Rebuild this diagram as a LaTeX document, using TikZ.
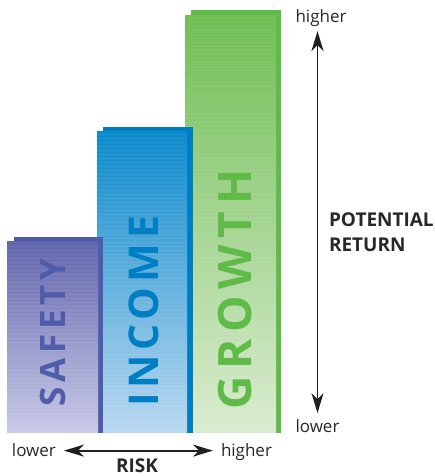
\documentclass[tikz,border=0pt]{standalone}
\usepackage{fontspec}
\setmainfont{Open Sans}
\newfontfamily\barfont{Open Sans}[BoldFont={Open Sans Bold}]
\usetikzlibrary{arrows.meta}
\definecolor{saftop}{RGB}{98,102,172}
\definecolor{safbot}{RGB}{202,202,232}
\definecolor{safdark}{RGB}{78,92,170}
\definecolor{inctop}{RGB}{12,138,204}
\definecolor{incbot}{RGB}{186,216,240}
\definecolor{incdark}{RGB}{0,126,196}
\definecolor{grotop}{RGB}{112,190,84}
\definecolor{grobot}{RGB}{218,236,208}
\definecolor{grodark}{RGB}{96,186,72}
\definecolor{arrowc}{RGB}{35,31,32}
\definecolor{txt}{RGB}{40,40,40}
\tikzset{
  lbl/.style={inner sep=0pt, outer sep=0pt, text=txt, font=\fontsize{17}{20}\selectfont},
  axisttl/.style={inner sep=0pt, outer sep=0pt, text=txt, font=\fontsize{19}{22}\selectfont\bfseries, align=left},
  barlbl/.style={rotate=90, anchor=base west, inner sep=0pt, outer sep=0pt},
  stripes/.style={draw=white, opacity=0.07, line width=0.8pt},
  arr/.style={line width=1.8pt, draw=arrowc,
    {Stealth[length=20pt,width=12pt,inset=6pt]}-{Stealth[length=20pt,width=12pt,inset=6pt]}}
}
\begin{document}
\begin{tikzpicture}[x=1pt,y=1pt]
\useasboundingbox (0,0) rectangle (435,476);
% GROWTH bar
\fill[grodark] (191,43) rectangle (281,466);
\shade[top color=grotop, bottom color=grobot] (185,43) rectangle (276,460);
\foreach \yy in {46,50,...,458} {\draw[stripes] (185,\yy) -- (276,\yy);}
% INCOME bar
\fill[incdark] (103,43) rectangle (193,349);
\shade[top color=inctop, bottom color=incbot] (97,43) rectangle (187,344);
\foreach \yy in {46,50,...,342} {\draw[stripes] (97,\yy) -- (187,\yy);}
% SAFETY bar
\fill[safdark] (14,43) rectangle (103,239);
\shade[top color=saftop, bottom color=safbot] (7,43) rectangle (98,234);
\foreach \yy in {46,50,...,232} {\draw[stripes] (7,\yy) -- (98,\yy);}
% bar labels
\node[barlbl, text=safdark, font=\barfont\bfseries\fontsize{35}{40}\selectfont\addfontfeature{LetterSpace=14}] (saf) at (65,69) {SAFETY};
\node[barlbl, text=incdark, font=\barfont\bfseries\fontsize{41}{46}\selectfont\addfontfeature{LetterSpace=12}] (inc) at (158,69) {INCOME};
\node[barlbl, text=grodark, font=\barfont\bfseries\fontsize{46}{52}\selectfont\addfontfeature{LetterSpace=15}] (gro) at (251,66) {GROWTH};
% risk axis
\node[lbl, anchor=base west] (rlow) at (12,19) {lower};
\node[lbl, anchor=base west] (rhigh) at (221,19) {higher};
\node[axisttl, anchor=base] (risk) at (137,4) {RISK};
\draw[arr] ([xshift=8pt]rlow.east) -- ([xshift=-8pt]rlow.east -| rhigh.west);
% return axis
\node[lbl, anchor=base] (vhigh) at (321,453) {higher};
\node[lbl, anchor=base] (vlow) at (317.5,43) {lower};
\node[axisttl, anchor=base west] (pot) at (329,249) {POTENTIAL};
\node[axisttl, anchor=base west] (ret) at (329,224.5) {RETURN};
\draw[arr] ([yshift=7pt]vlow.north) -- ([yshift=-4pt]vlow.north |- vhigh.south);
\end{tikzpicture}
\end{document}
